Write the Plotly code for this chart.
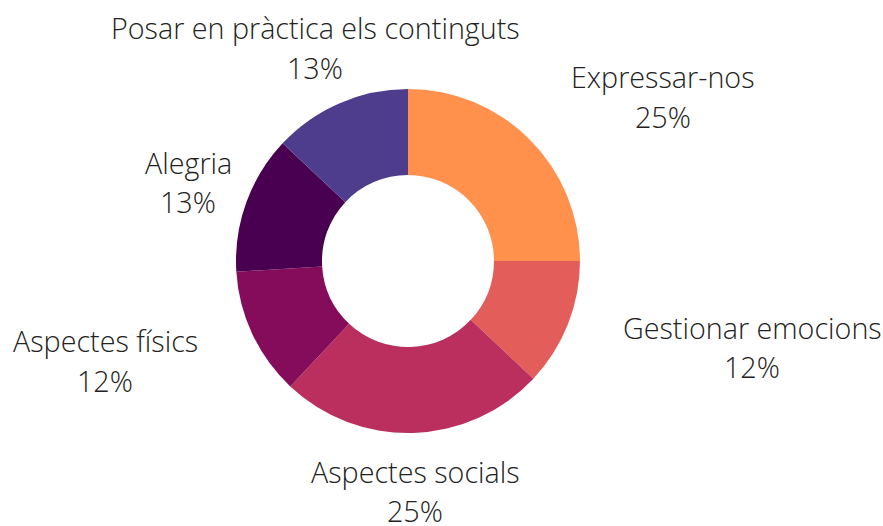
import plotly.graph_objects as go

W, H = 883, 526

# data
labels = [
    "Expressar-nos",
    "Gestionar emocions",
    "Aspectes socials",
    "Aspectes físics",
    "Alegria",
    "Posar en pràctica els continguts",
]
values = [25, 12, 25, 12, 13, 13]
colors = ["#FF914D", "#E35D5A", "#BA2F5E", "#850C5A", "#4A0050", "#4E3D8C"]

# label centres in window pixels (layout only): x, name line y, percent line y
label_pos = [
    (663, 77, 117),
    (752, 327, 366),
    (415, 471, 510),
    (105, 340, 380),
    (188, 162, 201),
    (315, 27, 67),
]

cx, cy, r = 408, 261, 172

fig = go.Figure(
    go.Pie(
        labels=labels,
        values=values,
        hole=0.5,
        sort=False,
        direction="clockwise",
        rotation=0,
        marker=dict(colors=colors, line=dict(width=0)),
        textinfo="none",
        hoverinfo="label+percent",
        domain=dict(
            x=[(cx - r) / W, (cx + r) / W],
            y=[1 - (cy + r) / H, 1 - (cy - r) / H],
        ),
    )
)

font = dict(family="Open Sans", size=28.7, color="#222222", weight=300)
total = sum(values)
for name, val, (x, y1, y2) in zip(labels, values, label_pos):
    fig.add_annotation(text=name, x=x / W, y=1 - y1 / H, xref="paper", yref="paper",
                       showarrow=False, xanchor="center", yanchor="middle", font=font)
    fig.add_annotation(text=f"{round(100 * val / total)}%", x=x / W, y=1 - y2 / H,
                       xref="paper", yref="paper", showarrow=False,
                       xanchor="center", yanchor="middle", font=font)

fig.update_layout(
    width=W,
    height=H,
    margin=dict(l=0, r=0, t=0, b=0),
    showlegend=False,
    paper_bgcolor="white",
    plot_bgcolor="white",
)

# drop the default page margin so the figure fills the window
fig.write_html(
    "out.html",
    config={"displayModeBar": False},
    post_script="document.body.style.margin='0';",
)
